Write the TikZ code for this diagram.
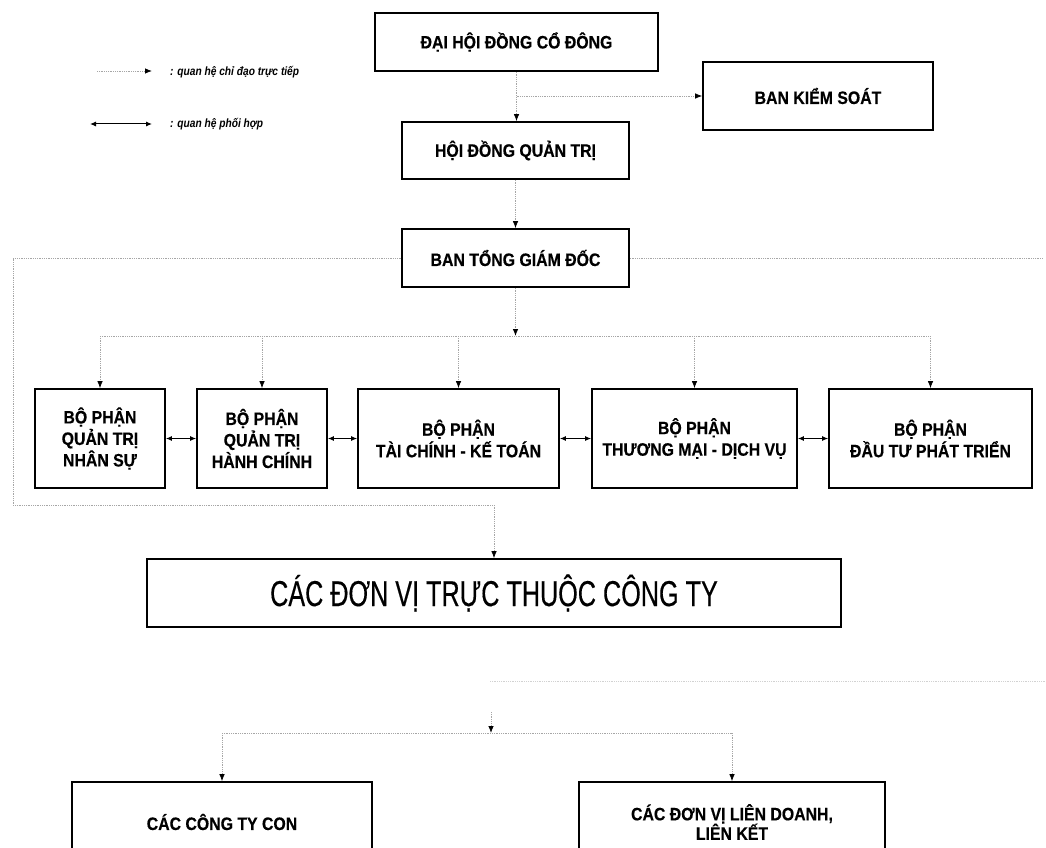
\documentclass[tikz,border=0pt]{standalone}
\usepackage{fontspec}
\setmainfont{Liberation Sans}
\newfontfamily\boxfont{Liberation Sans}[FakeStretch=0.88, FakeBold=0.4]
\newfontfamily\bigfont{Liberation Sans}[FakeStretch=0.7, FakeBold=0.3]
\newfontfamily\legfont{Liberation Sans}[FakeStretch=0.85]
\usetikzlibrary{arrows.meta}
\begin{document}
\begin{tikzpicture}[x=1pt,y=-1pt,
  box/.style={draw=black, line width=1.7pt, align=center, inner sep=0pt,
    font=\boxfont\bfseries\fontsize{18}{21.5}\selectfont},
  dl/.style={gray!70, densely dotted, line width=0.8pt},
  ar/.style={-{Latex[length=7pt,width=5.5pt,color=black]}},
  dar/.style={{Latex[length=6pt,width=5pt]}-{Latex[length=6pt,width=5pt]}, line width=1pt, black},
  legtext/.style={anchor=west, inner sep=0pt, font=\legfont\bfseries\itshape\fontsize{12}{14}\selectfont}]
\clip (0,0) rectangle (1046,848);
\fill[white] (0,0) rectangle (1046,848);

% legend
\coordinate (l1a) at (97,71);
\coordinate (l1b) at (152,71);
\coordinate (l2a) at (90,124);
\coordinate (l2b) at (152,124);
\draw[dl,ar] (l1a) -- (l1b);
\draw[dar] (l2a) -- (l2b);
\node[legtext] (lt1) at (170,72) {: quan hệ chỉ đạo trực tiếp};
\node[legtext] (lt2) at (170,124) {: quan hệ phối hợp};

% top boxes
\node[box, minimum width=283pt, minimum height=58pt] (dh) at (516.5,42) {ĐẠI HỘI ĐỒNG CỔ ĐÔNG};
\node[box, minimum width=230pt, minimum height=68pt] (bks) at (818,96) {BAN KIỂM SOÁT};
\node[box, minimum width=227pt, minimum height=57pt] (hd) at (515.5,150.5) {HỘI ĐỒNG QUẢN TRỊ};
\node[box, minimum width=227pt, minimum height=58pt] (bt) at (515.5,258) {BAN TỔNG GIÁM ĐỐC};

% row of departments
\node[box, minimum width=130pt, minimum height=99pt] (b1) at (100,438.5) {BỘ PHẬN\\QUẢN TRỊ\\NHÂN SỰ};
\node[box, minimum width=130pt, minimum height=99pt] (b2) at (262,438.5) {BỘ PHẬN\\QUẢN TRỊ\\HÀNH CHÍNH};
\node[box, minimum width=201pt, minimum height=99pt] (b3) at (458.5,438.5) {BỘ PHẬN\\TÀI CHÍNH - KẾ TOÁN};
\node[box, minimum width=205pt, minimum height=99pt] (b4) at (694.5,438.5) {BỘ PHẬN\\THƯƠNG MẠI - DỊCH VỤ};
\node[box, minimum width=203pt, minimum height=99pt] (b5) at (930.5,438.5) {BỘ PHẬN\\ĐẦU TƯ PHÁT TRIỂN};

% subsidiaries
\node[box, minimum width=694pt, minimum height=68pt,
  font=\bigfont\fontsize{36}{40}\selectfont] (cd) at (494,593) {CÁC ĐƠN VỊ TRỰC THUỘC CÔNG TY};
\node[box, minimum width=300pt, minimum height=80pt] (ct) at (222,822) {CÁC CÔNG TY CON};
\node[box, minimum width=306pt, minimum height=80pt,
  font=\boxfont\bfseries\fontsize{18}{19.5}\selectfont] (ld) at (732,822) {CÁC ĐƠN VỊ LIÊN DOANH,\\LIÊN KẾT};

% connectors top
\draw[dl,ar] (dh.south) -- (dh.south |- hd.north);
\draw[dl,ar] (dh.south |- bks.west) -- (bks.west);
\draw[dl,ar] (hd.south) -- (bt.north);

% distribution to departments
\coordinate (dist) at (513,336);
\draw[dl,ar] (bt.south) -- (bt.south |- dist);
\draw[dl] (b1.north |- dist) -- (b5.north |- dist);
\foreach \b in {b1,b2,b3,b4,b5} \draw[dl,ar] (\b.north |- dist) -- (\b.north);

% coordination arrows
\draw[dar] (b1.east) -- (b2.west);
\draw[dar] (b2.east) -- (b3.west);
\draw[dar] (b3.east) -- (b4.west);
\draw[dar] (b4.east) -- (b5.west);

% side lines from general director
\coordinate (lc1) at (13,258);
\coordinate (lc2) at (13,505);
\coordinate (rc) at (1043,258);
\draw[dl,ar] (bt.west) -- (lc1) -- (lc2) -- (lc2 -| cd.north) -- (cd.north);
\draw[dl] (bt.east) -- (rc);

% faint line
\coordinate (f1) at (490,681);
\coordinate (f2) at (1046,681);
\draw[dl,gray!35] (f1) -- (f2);

% bottom distribution
\coordinate (s1) at (491,712);
\coordinate (s2) at (491,733);
\draw[dl,ar] (s1) -- (s2);
\draw[dl] (ct.north |- s2) -- (ld.north |- s2);
\draw[dl,ar] (ct.north |- s2) -- (ct.north);
\draw[dl,ar] (ld.north |- s2) -- (ld.north);
\end{tikzpicture}
\end{document}
